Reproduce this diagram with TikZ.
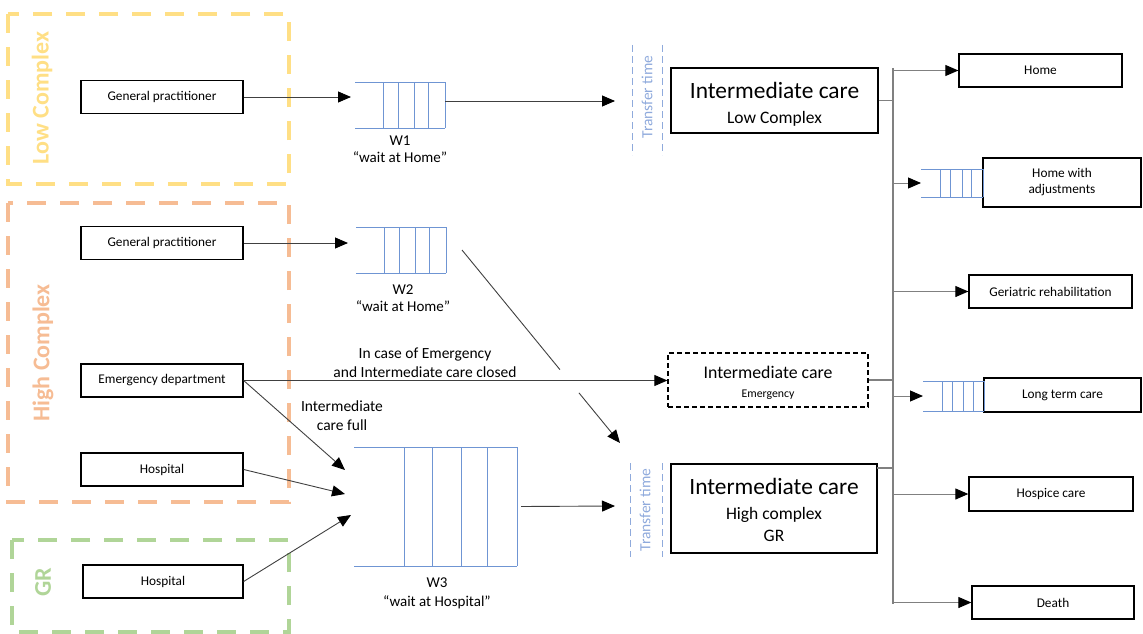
\documentclass[tikz,border=0pt]{standalone}
\usepackage{fontspec}
\setmainfont{Carlito}
\usetikzlibrary{arrows.meta,calc}

\definecolor{lowc}{HTML}{FFDF85}
\definecolor{highc}{HTML}{F6BC94}
\definecolor{grc}{HTML}{B0D598}
\definecolor{qblue}{HTML}{6F95D3}
\definecolor{tblue}{HTML}{8FAADC}
\definecolor{barc}{HTML}{808080}
\definecolor{linec}{HTML}{404040}

\tikzset{
  box/.style={draw=black, line width=1.3pt, inner sep=0pt, minimum width=162pt,
    minimum height=33pt, align=center, font=\fontsize{13.3}{16}\selectfont},
  icbox/.style={draw=black, line width=1.3pt, inner sep=0pt},
  ictext/.style={align=center, inner sep=0pt},
  grpbox/.style={line width=4pt, dash pattern=on 19pt off 14pt},
  grplbl/.style={rotate=90, font=\fontsize{24}{28}\bfseries\selectfont, inner sep=0pt},
  qnode/.style={inner sep=0pt, outer sep=0pt},
  qline/.style={draw=qblue, line width=0.8pt},
  qlbl/.style={align=center, font=\fontsize{15}{17}\selectfont, inner sep=0pt},
  lbl/.style={align=center, font=\fontsize{15.5}{19}\selectfont, inner sep=0pt},
  ttext/.style={rotate=90, text=tblue, font=\fontsize{15.5}{18}\selectfont, inner sep=0pt},
  tdash/.style={draw=tblue, line width=1pt, dash pattern=on 7pt off 4pt},
  conn/.style={draw=linec, line width=0.9pt},
  arr/.style={conn, -{Triangle[length=13pt,width=11pt,color=black]}},
  barline/.style={draw=barc, line width=1.3pt},
  barr/.style={draw=barc, line width=1pt, -{Triangle[length=13pt,width=11pt,color=black]}},
}

% open-ended queue: top and bottom rails plus the slot dividers
\newcommand\queuebars[1]{%
  \draw[qline] (#1.north west) -- (#1.north east) (#1.south west) -- (#1.south east);
  \foreach \f in {0.31,0.48,0.66,0.82,1}
    \draw[qline] ($(#1.north west)!\f!(#1.north east)$) -- ($(#1.south west)!\f!(#1.south east)$);
}

\begin{document}
\begin{tikzpicture}[x=1pt,y=-1pt]
\useasboundingbox (0,0) rectangle (1143,634);

% patient groups
\draw[grpbox, draw=lowc] (8,14) rectangle (289,184);
\draw[grpbox, draw=highc] (8,203) rectangle (289,502);
\draw[grpbox, draw=grc] (12,540) rectangle (289,632);
\node[grplbl, text=lowc] (lowlbl) at (42,98) {Low Complex};
\node[grplbl, text=highc] (highlbl) at (43,353) {High Complex};
\node[grplbl, text=grc] (grlbl) at (43,582) {GR};

% referrers
\node[box] (gp1) at (162,97) {General practitioner};
\node[box] (gp2) at (162,243) {General practitioner};
\node[box] (ed) at (162,380.5) {Emergency department};
\node[box] (hosp1) at (162,469.5) {Hospital};
\node[box, minimum width=160pt] (hosp2) at (163,581.5) {Hospital};

% waiting queues
\node[qnode, minimum width=90pt, minimum height=46pt] (w1) at (400,105) {};
\node[qnode, minimum width=90pt, minimum height=46pt] (w2) at (401,250) {};
\node[qnode, minimum width=163pt, minimum height=119pt] (w3) at (435.5,506.5) {};
\queuebars{w1}
\queuebars{w2}
\queuebars{w3}
\node[qlbl] (w1l) at (400,149.5) {W1\\“wait at Home”};
\node[qlbl] (w2l) at (403,298) {W2\\“wait at Home”};
\node[qlbl, font=\fontsize{15}{19}\selectfont] (w3l) at (437,593.5) {W3\\“wait at Hospital”};

% intermediate care units
\node[icbox, minimum width=207pt, minimum height=65pt] (icl) at (774.5,100.5) {};
\node[ictext, font=\fontsize{23.4}{25}\selectfont] (icltxt) at ([yshift=-4pt]icl.center)
  {Intermediate care\\{\fontsize{17.5}{25}\selectfont Low Complex}};
\node[icbox, dash pattern=on 5pt off 3pt, minimum width=200pt, minimum height=54pt] (icem) at (768,380) {};
\node[ictext, font=\fontsize{17.8}{19}\selectfont] (icemtxt) at ([yshift=-3pt]icem.center)
  {Intermediate care\\{\fontsize{11.8}{19}\selectfont Emergency}};
\node[icbox, minimum width=206pt, minimum height=89pt] (ich) at (774,508.5) {};
\node[ictext, font=\fontsize{23.4}{25}\selectfont] (ichtxt) at ([yshift=-1.5pt]ich.center)
  {Intermediate care\\{\fontsize{17.5}{25}\selectfont High complex}\\[-3pt]{\fontsize{17.5}{25}\selectfont GR}};

% transfer time bands
\node[ttext] (ttl) at (647,97) {Transfer time};
\draw[tdash] (632,45) -- (632,155) (662,45) -- (662,155);
\node[ttext] (tth) at (645,510) {Transfer time};
\draw[tdash] (630,463) -- (630,557) (662,463) -- (662,557);

% outcomes
\node[box, minimum width=163pt] (home) at (1040.5,70.5) {Home};
\node[box, minimum width=158pt, minimum height=49pt] (homeadj) at (1062,182.5) {Home with\\adjustments};
\node[qnode, minimum width=62pt, minimum height=28pt] (q4) at (952,183) {};
\queuebars{q4}
\node[box, minimum width=163pt] (geri) at (1050.5,291.5) {Geriatric rehabilitation};
\node[box, minimum width=157pt, minimum height=34pt] (ltc) at (1062.5,395) {Long term care};
\node[qnode, minimum width=61pt, minimum height=30pt] (q5) at (953.5,396) {};
\queuebars{q5}
\node[box, minimum width=164pt, minimum height=34pt] (hospice) at (1051,494) {Hospice care};
\node[box, minimum width=162pt] (death) at (1053,602.5) {Death};

% free ends of connectors
\coordinate (w1in) at (351,97);
\coordinate (w2in) at (348,243);
\coordinate (lowin) at (615,101);
\coordinate (w2out) at (462,250);
\coordinate (ichin) at (620,443);
\coordinate (w3a) at (345,470);
\coordinate (w3b) at (345,494);
\coordinate (w3c) at (351,515);
\coordinate (highin) at (615,506);
\coordinate (bartop) at (893,68);
\coordinate (barbot) at (893,604);
\coordinate (ichout) at (877,468);

% inflow
\draw[arr] (gp1.east) -- (w1in);
\draw[arr] (w1.east |- lowin) -- (lowin);
\draw[arr] (gp2.east) -- (w2in);
\draw[conn] (w2out) -- ($(w2out)!0.62!(ichin)$);
\draw[arr] ($(w2out)!0.74!(ichin)$) -- (ichin);
\draw[arr] (ed.east) -- (ed.east -| icem.west);
\node[lbl] (emlbl) at (425,362.5) {In case of Emergency\\and Intermediate care closed};
\draw[arr] (ed.east) -- (w3a);
\node[lbl] (fulllbl) at (342,415.5) {Intermediate\\care full};
\draw[arr] (hosp1.east) -- (w3b);
\draw[arr] (hosp2.east) -- (w3c);
\draw[arr] ([xshift=4pt]w3.east) -- (highin);

% outflow
\draw[barline] (bartop) -- (barbot);
\draw[barline] (icl.east) -- (icl.east -| bartop);
\draw[barline] (icem.east) -- (icem.east -| bartop);
\draw[barline] (ichout) -- (ichout -| bartop);
\draw[barr] (bartop |- home.west) -- (home.west);
\draw[barr] (bartop |- q4.west) -- (q4.west);
\draw[barr] (bartop |- geri.west) -- (geri.west);
\draw[barr] (bartop |- q5.west) -- (q5.west);
\draw[barr] (bartop |- hospice.west) -- (hospice.west);
\draw[barr] (bartop |- death.west) -- (death.west);
\end{tikzpicture}
\end{document}
